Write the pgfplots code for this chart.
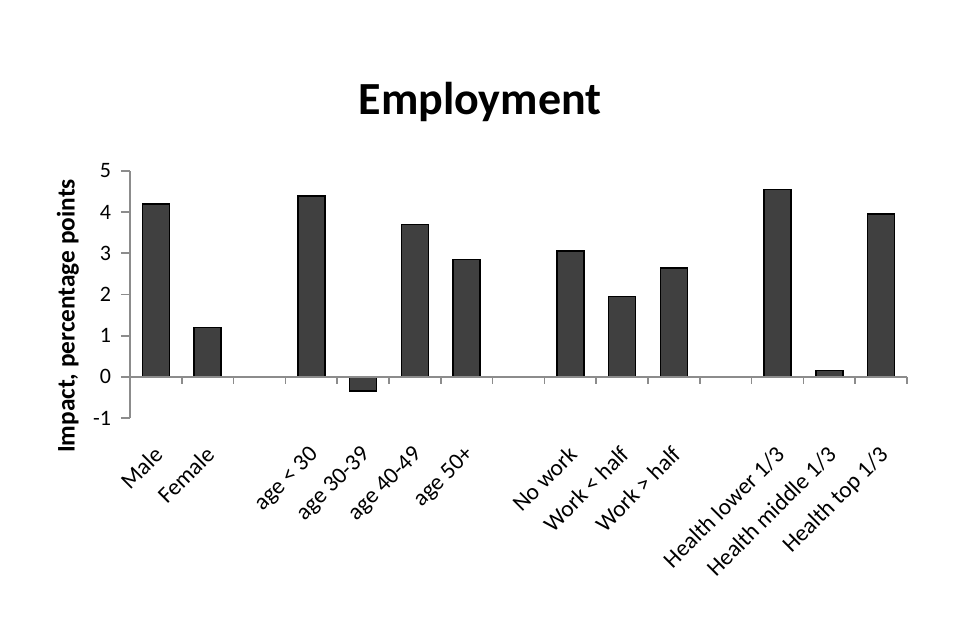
\documentclass[border=0pt]{standalone}
\usepackage{pgfplots}
\pgfplotsset{compat=1.18}
\usepackage{fontspec}
\setmainfont{Carlito}
\definecolor{barc}{HTML}{404040}
\definecolor{axgray}{HTML}{8C8C8C}
\begin{document}
\begin{tikzpicture}
\path (0,0) rectangle (720pt,480pt);
\node[font=\fontsize{34.5}{40}\selectfont\bfseries, anchor=base] at (360pt,394pt) {Employment};
\begin{axis}[
  at={(97.5pt,166.5pt)}, anchor=south west,
  scale only axis, width=582.75pt, height=185.25pt,
  xmin=-0.5, xmax=14.5, ymin=-1, ymax=5,
  clip=false,
  axis y line*=left, axis x line*=bottom,
  x axis line style={draw=none},
  y axis line style={draw=axgray, line width=1.3pt},
  ytick={-1,0,1,2,3,4,5},
  ytick style={draw=axgray, line width=1.3pt},
  tick align=outside,
  major tick length=6.75pt,
  xtick style={draw=none},
  xtick={0,1,3,4,5,6,8,9,10,12,13,14},
  xticklabels={Male,Female,age < 30,age 30-39,age 40-49,age 50+,No work,Work < half,Work > half,Health lower 1/3,Health middle 1/3,Health top 1/3},
  xticklabel style={xshift=-2.5pt, yshift=-13pt, rotate=45, anchor=north east, font=\fontsize{17.5}{19}\selectfont, inner sep=0pt},
  yticklabel style={font=\fontsize{16.5}{18}\selectfont, xshift=-4pt},
  /pgf/number format/assume math mode=true,
  ylabel={Impact, percentage points},
  ylabel style={font=\fontsize{19}{21}\selectfont\bfseries, at={(axis description cs:-0.08,0.413)}, anchor=center},
  ybar, bar width=0.52, bar shift=0pt,
]
\addplot[fill=barc, draw=black, line width=1.2pt] coordinates {
(0,4.2) (1,1.2) (3,4.4) (4,-0.35) (5,3.7) (6,2.85) (8,3.05) (9,1.95) (10,2.65) (12,4.55) (13,0.15) (14,3.95)
};
\draw[axgray, line width=1.3pt] (axis cs:-0.5,0) -- (axis cs:14.5,0);
\pgfplotsinvokeforeach{0.5,1.5,...,14.5}{
  \draw[axgray, line width=1.3pt] (axis cs:#1,0) -- ([yshift=-5.5pt]axis cs:#1,0);
}
\end{axis}
\end{tikzpicture}
\end{document}
